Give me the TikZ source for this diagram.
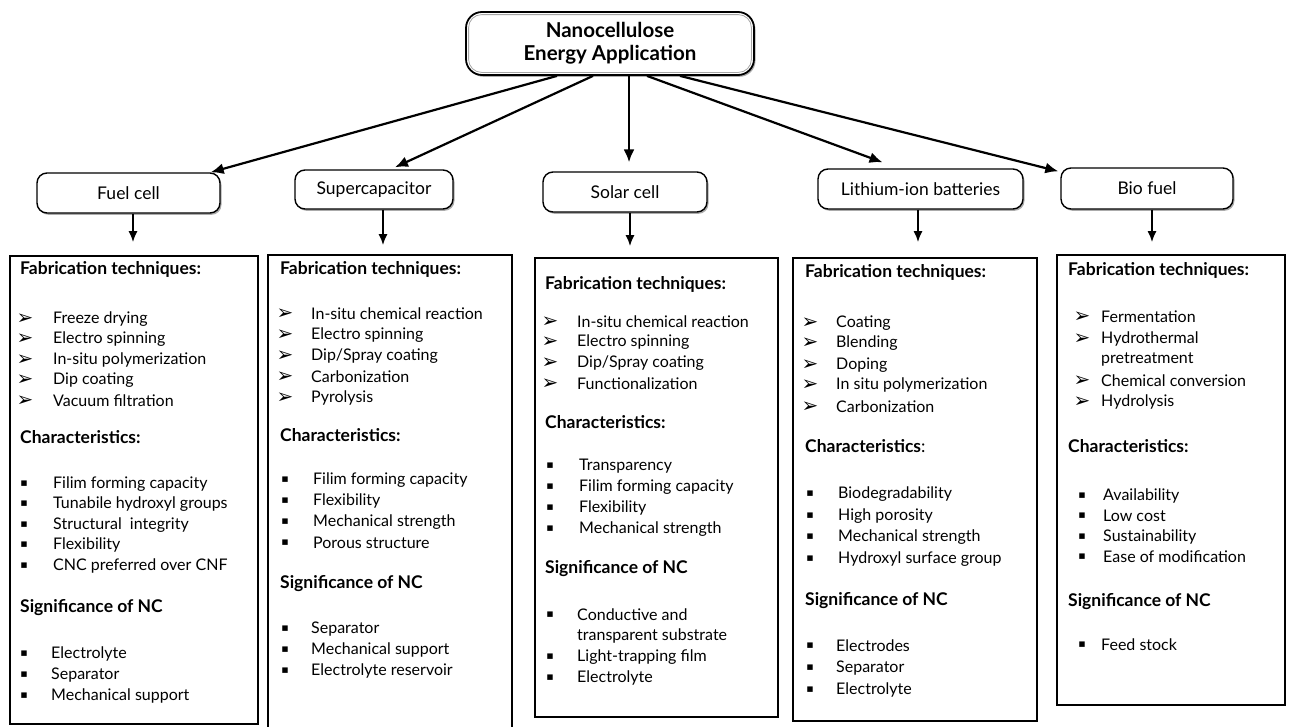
\documentclass[tikz,border=0pt]{standalone}
\usepackage{fontspec}
\setmainfont{Lato}
\newfontfamily\symf{DejaVu Sans}
\usetikzlibrary{arrows.meta,shadows,calc}
\tikzset{
  itm/.style={anchor=west,inner sep=0pt,font=\fontsize{16}{19}\selectfont},
  hd/.style={anchor=west,inner sep=0pt,font=\fontsize{17.5}{20}\selectfont\bfseries},
  arrb/.style={inner sep=0pt,font=\symf\fontsize{20}{21}\selectfont},
  sqb/.style={inner sep=0pt,font=\symf\fontsize{11}{12}\selectfont},
  catbox/.style={draw=black,line width=1.4pt,rounded corners=10pt,fill=white,
    drop shadow={shadow xshift=1.5pt,shadow yshift=-1.8pt,opacity=0.55,fill=black!60},
    font=\fontsize{17.5}{20}\selectfont,inner sep=0pt},
  contbox/.style={draw=black,line width=1.6pt,inner sep=0pt},
  longarr/.style={line width=2.2pt,-{Latex[length=13pt,width=11pt]}},
  shortarr/.style={line width=1.9pt,-{Latex[length=11pt,width=9pt]}},
}
\newcommand{\ArrItem}[5]{\node[arrb] (#1b) at (#2,#4) {➢};\node[itm] (#1) at (#3,#4) {#5};}
\newcommand{\SqItem}[5]{\node[sqb] (#1b) at (#2,#4) {▪};\node[itm] (#1) at (#3,#4) {#5};}
\begin{document}
\begin{tikzpicture}[x=1pt,y=-1pt]
\useasboundingbox[fill=white] (0,0) rectangle (1289,726);

% top box
\node[catbox,line width=1.8pt,rounded corners=16pt,minimum width=288pt,minimum height=63pt,
  align=center,font=\fontsize{20.5}{23}\selectfont\bfseries] (top) at (610,43.5)
  {Nanocellulose\\Energy Application};
\draw[black!35,line width=0.8pt,rounded corners=13pt] ($(top.north west)+(3.5,3.5)$) rectangle ($(top.south east)+(-3.5,-3.5)$);

% category boxes
\node[catbox,minimum width=183pt,minimum height=40pt] (fuel) at (128.5,193) {Fuel cell};
\node[catbox,minimum width=158pt,minimum height=39pt] (super) at (374,189.5) {Supercapacitor};
\node[catbox,minimum width=164pt,minimum height=40pt] (solar) at (625,192) {Solar cell};
\node[catbox,minimum width=205pt,minimum height=40pt] (lith) at (920.5,189) {Lithium-ion batteries};
\node[catbox,minimum width=172pt,minimum height=41pt] (bio) at (1147,188.5) {Bio fuel};

% content boxes
\node[contbox,minimum width=248pt,minimum height=468pt] (b1) at (134,490) {};
\node[contbox,minimum width=244pt,minimum height=485pt] (b2) at (390,497.5) {};
\node[contbox,minimum width=243pt,minimum height=459pt] (b3) at (656.5,487.5) {};
\node[contbox,minimum width=244pt,minimum height=463pt] (b4) at (915,489.5) {};
\node[contbox,minimum width=228pt,minimum height=450pt] (b5) at (1171,480) {};

% arrows from top
\draw[longarr] ($(top.south)+(-53,0)$) -- ($(fuel.north east)+(-10,0)$);
\draw[longarr] ($(top.south)+(-17,0)$) -- ($(super.north)+(21,-2)$);
\draw[longarr] ($(top.south)+(19,0)$) -- ($(solar.north)+(4,-9)$);
\draw[longarr] ($(top.south)+(37,0)$) -- ($(lith.north)+(-38,-6)$);
\draw[longarr] ($(top.south)+(70,0)$) -- ($(bio.north west)+(-2,4)$);

% short arrows
\draw[shortarr] ($(fuel.south)+(4.5,0)$) -- ($(fuel.south |- b1.north)+(4.5,-13)$);
\draw[shortarr] ($(super.south)+(9,0)$) -- ($(super.south |- b2.north)+(9,-9)$);
\draw[shortarr] ($(solar.south)+(5,0)$) -- ($(solar.south |- b3.north)+(5,-11)$);
\draw[shortarr] ($(lith.south)+(-2.5,0)$) -- ($(lith.south |- b4.north)+(-2.5,-15)$);
\draw[shortarr] ($(bio.south)+(5,0)$) -- ($(bio.south |- b5.north)+(5,-12)$);

% ---- box 1
\node[hd] (h1a) at (20,269) {Fabrication techniques:};
\ArrItem{a1}{25}{53}{319}{Freeze drying}
\ArrItem{a2}{25}{53}{339}{Electro spinning}
\ArrItem{a3}{25}{53}{360}{In-situ polymerization}
\ArrItem{a4}{25}{53}{380}{Dip coating}
\ArrItem{a5}{25}{53}{401}{Vacuum filtration}
\node[hd] (h1b) at (20,437) {Characteristics:};
\SqItem{a6}{24}{53}{484}{Filim forming capacity}
\SqItem{a7}{24}{53}{504}{Tunabile hydroxyl groups}
\SqItem{a8}{24}{53}{525}{Structural\ \ integrity}
\SqItem{a9}{24}{53}{545}{Flexibility}
\SqItem{a10}{24}{53}{566}{CNC preferred over CNF}
\node[hd] (h1c) at (20,608) {Significance of NC};
\SqItem{a11}{24}{51}{654}{Electrolyte}
\SqItem{a12}{24}{51}{675}{Separator}
\SqItem{a13}{24}{51}{696}{Mechanical support}

% ---- box 2
\node[hd] (h2a) at (280,269) {Fabrication techniques:};
\ArrItem{c1}{285}{311}{314}{In-situ\ chemical reaction}
\ArrItem{c2}{285}{311}{335}{Electro spinning}
\ArrItem{c3}{285}{311}{356}{Dip/Spray coating}
\ArrItem{c4}{285}{311}{377}{Carbonization}
\ArrItem{c5}{285}{311}{398}{Pyrolysis}
\node[hd] (h2b) at (280,435) {Characteristics:};
\SqItem{c6}{285}{313}{480}{Filim forming capacity}
\SqItem{c7}{285}{313}{501}{Flexibility}
\SqItem{c8}{285}{313}{522}{Mechanical strength}
\SqItem{c9}{285}{313}{543}{Porous structure}
\node[hd] (h2c) at (280,584) {Significance of NC};
\SqItem{c10}{285}{311}{629}{Separator}
\SqItem{c11}{285}{311}{650}{Mechanical support}
\SqItem{c12}{285}{311}{671}{Electrolyte reservoir}

% ---- box 3
\node[hd] (h3a) at (545,284) {Fabrication techniques:};
\ArrItem{d1}{550}{577}{322}{In-situ\ chemical reaction}
\ArrItem{d2}{550}{577}{342}{Electro spinning}
\ArrItem{d3}{550}{577}{363}{Dip/Spray coating}
\ArrItem{d4}{550}{577}{384}{Functionalization}
\node[hd] (h3b) at (545,422) {Characteristics:};
\SqItem{d5}{550}{579}{466}{Transparency}
\SqItem{d6}{550}{579}{487}{Filim forming capacity}
\SqItem{d7}{550}{579}{508}{Flexibility}
\SqItem{d8}{550}{579}{529}{Mechanical strength}
\node[hd] (h3c) at (545,569) {Significance of NC};
\SqItem{d9}{550}{577}{615}{Conductive and}
\node[itm] (d9b2) at (577,636) {transparent\ substrate};
\SqItem{d10}{550}{577}{657}{Light-trapping film}
\SqItem{d11}{550}{577}{678}{Electrolyte}

% ---- box 4
\node[hd] (h4a) at (805,272) {Fabrication techniques:};
\ArrItem{e1}{810}{836}{323}{Coating}
\ArrItem{e2}{810}{836}{343}{Blending}
\ArrItem{e3}{810}{836}{365}{Doping}
\ArrItem{e4}{810}{836}{385}{In situ polymerization}
\ArrItem{e5}{810}{836}{407}{Carbonization}
\node[hd] (h4b) at (805,446) {Characteristics\textmd{:}};
\SqItem{e6}{810}{838}{494}{Biodegradability}
\SqItem{e7}{810}{838}{516}{High porosity}
\SqItem{e8}{810}{838}{537}{Mechanical strength}
\SqItem{e9}{810}{838}{559}{Hydroxyl surface group}
\node[hd] (h4c) at (805,601) {Significance of NC};
\SqItem{e10}{810}{836}{646}{Electrodes}
\SqItem{e11}{810}{836}{668}{Separator}
\SqItem{e12}{810}{836}{690}{Electrolyte}

% ---- box 5
\node[hd] (h5a) at (1068,270) {Fabrication techniques:};
\ArrItem{f1}{1082}{1101}{317}{Fermentation}
\ArrItem{f2}{1082}{1101}{339}{Hydrothermal}
\node[itm] (f2b2) at (1101,359) {pretreatment};
\ArrItem{f3}{1082}{1101}{381}{Chemical conversion}
\ArrItem{f4}{1082}{1101}{402}{Hydrolysis}
\node[hd] (h5b) at (1068,446) {Characteristics:};
\SqItem{f5}{1082}{1103}{496}{Availability}
\SqItem{f6}{1082}{1103}{516}{Low cost}
\SqItem{f7}{1082}{1103}{537}{Sustainability}
\SqItem{f8}{1082}{1103}{557}{Ease of modification}
\node[hd] (h5c) at (1068,602) {Significance of NC};
\SqItem{f9}{1082}{1101}{645}{Feed stock}
\end{tikzpicture}
\end{document}
